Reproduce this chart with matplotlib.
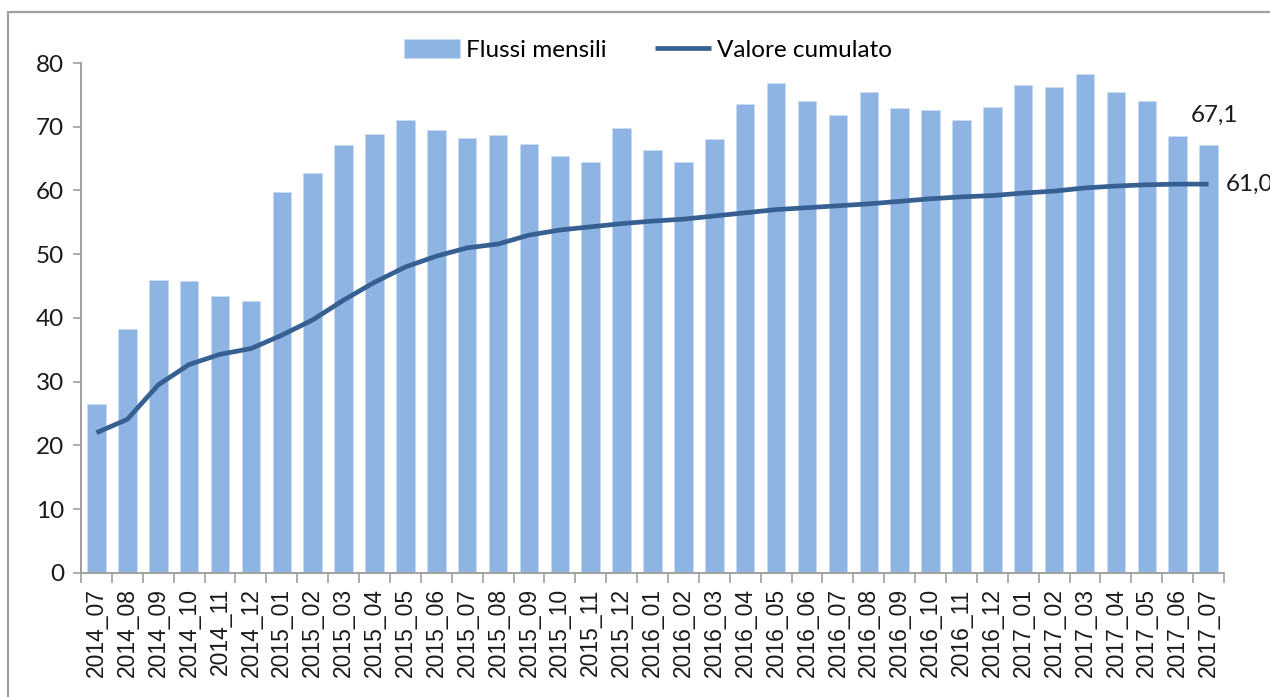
import numpy as np
import matplotlib.pyplot as plt
from matplotlib.patches import Rectangle

mesi = ["2014_07", "2014_08", "2014_09", "2014_10", "2014_11", "2014_12",
        "2015_01", "2015_02", "2015_03", "2015_04", "2015_05", "2015_06",
        "2015_07", "2015_08", "2015_09", "2015_10", "2015_11", "2015_12",
        "2016_01", "2016_02", "2016_03", "2016_04", "2016_05", "2016_06",
        "2016_07", "2016_08", "2016_09", "2016_10", "2016_11", "2016_12",
        "2017_01", "2017_02", "2017_03", "2017_04", "2017_05", "2017_06",
        "2017_07"]

flussi = [26.5, 38.3, 46.0, 45.8, 43.5, 42.6,
          59.7, 62.8, 67.2, 68.9, 71.1, 69.5,
          68.2, 68.7, 67.3, 65.4, 64.5, 69.8,
          66.3, 64.5, 68.1, 73.6, 76.8, 74.1,
          71.9, 75.5, 73.0, 72.7, 71.1, 73.1,
          76.5, 76.2, 78.3, 75.5, 74.0, 68.6,
          67.1]

cumulato = [22.0, 24.1, 29.5, 32.7, 34.3, 35.2,
            37.3, 39.7, 42.8, 45.6, 48.0, 49.7,
            51.0, 51.6, 53.0, 53.8, 54.3, 54.8,
            55.2, 55.5, 56.0, 56.5, 57.0, 57.3,
            57.6, 57.9, 58.3, 58.7, 59.0, 59.2,
            59.6, 59.9, 60.4, 60.7, 60.9, 61.0,
            61.0]

x = np.arange(len(mesi))

fig = plt.figure(figsize=(12.7, 6.97), dpi=100)
ax = fig.add_axes([0.0638, 0.178, 0.90, 0.7316])

barre = ax.bar(x, flussi, width=0.6, color="#8EB4E3", edgecolor="#C9DAF0",
               linewidth=0.6, label="Flussi mensili", zorder=2)
linea, = ax.plot(x, cumulato, color="#376092", linewidth=3.4,
                 label="Valore cumulato", solid_capstyle="butt", zorder=3)

ax.set_xlim(-0.5, len(mesi) - 0.5)
ax.set_ylim(0, 80)
ax.set_yticks(range(0, 81, 10))
ax.set_yticklabels([str(v) for v in range(0, 81, 10)], fontsize=17.5,
                   family="Lato", color="#1a1a1a")

ax.set_xticks(x)
ax.set_xticklabels(mesi, rotation=90, fontsize=16.5, family="Liberation Sans",
                   color="#1a1a1a")
ax.tick_params(axis="x", which="major", length=0, pad=11)
ax.set_xticks(np.arange(-0.5, len(mesi), 1), minor=True)
ax.tick_params(axis="x", which="minor", length=7, width=1.2, color="#A0A0A0")
ax.tick_params(axis="y", length=6, width=1.2, color="#A0A0A0", pad=6)

for s in ["top", "right"]:
    ax.spines[s].set_visible(False)
for s in ["left", "bottom"]:
    ax.spines[s].set_color("#A0A0A0")
    ax.spines[s].set_linewidth(1.4)

# etichette finali
ax.text(x[-1] + 0.2, flussi[-1] + 3.0, "67,1", ha="center", va="bottom",
        fontsize=17.5, family="Lato", color="#1a1a1a")
ax.text(x[-1] + 0.55, cumulato[-1], "61,0", ha="left", va="center",
        fontsize=17.5, family="Lato", color="#1a1a1a", clip_on=False)

fig.legend([barre, linea], ["Flussi mensili", "Valore cumulato"],
           loc="center", bbox_to_anchor=(0.51, 0.928), ncol=2, frameon=False,
           prop={"family": "Lato", "size": 17.5}, handlelength=2.3,
           handleheight=0.8, handletextpad=0.25, columnspacing=2.0)

# cornice esterna
fig.patches.append(Rectangle((8 / 1270, -0.1), 1.2, 1.1 - 12 / 697,
                             transform=fig.transFigure, fill=False,
                             edgecolor="#A0A0A0", linewidth=1.6))

fig.savefig("out.png", dpi=100)
